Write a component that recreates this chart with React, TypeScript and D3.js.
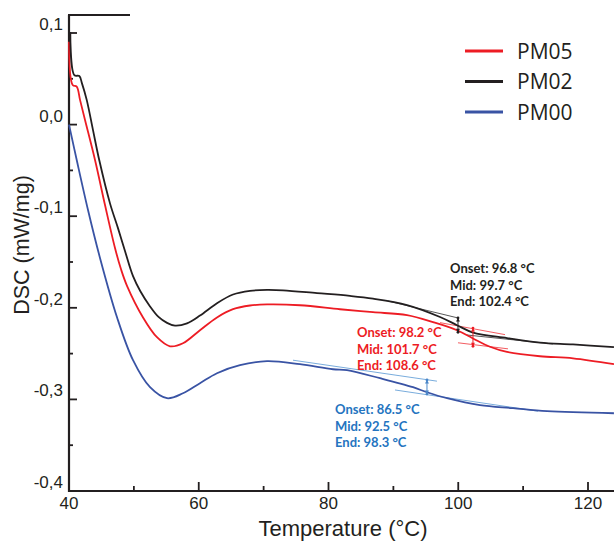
import React from 'react';
import * as d3 from 'd3';

// ---------- data ----------
const T_PM02 = [40.2, 40.82, 41.59, 42.0, 42.73, 43.7, 44.67, 46.32, 47.55, 48.63, 49.87, 51.0, 52.49, 53.8, 55.11, 56.34, 58.19, 60.19, 62.81, 65.28, 67.9, 70.52, 72.99, 78.23, 83.31, 86.86, 92.1, 97.19, 99.81, 102.27, 107.51, 112.6, 117.69, 124.0];
const V_PM02 = [0.101, 0.054, 0.053, 0.045, 0.027, -0.006, -0.039, -0.086, -0.113, -0.138, -0.1655, -0.182, -0.1985, -0.21, -0.2165, -0.2195, -0.217, -0.2085, -0.195, -0.1855, -0.1815, -0.1805, -0.181, -0.184, -0.187, -0.19, -0.197, -0.21, -0.219, -0.227, -0.233, -0.238, -0.24, -0.243];

const T_PM05 = [40.0, 40.57, 41.19, 41.7, 42.47, 44.01, 45.55, 47.09, 48.02, 48.94, 51.41, 53.56, 55.57, 57.57, 60.19, 62.81, 65.28, 67.9, 70.52, 75.61, 81.77, 86.86, 92.1, 96.11, 99.81, 102.27, 104.89, 107.51, 112.6, 117.69, 124.0];
const V_PM05 = [0.0905, 0.0432, 0.0414, 0.027, 0.005, -0.0386, -0.0878, -0.1347, -0.158, -0.176, -0.2105, -0.2321, -0.242, -0.2387, -0.2245, -0.2105, -0.2015, -0.1975, -0.1963, -0.1972, -0.2016, -0.2048, -0.2081, -0.2157, -0.2245, -0.2335, -0.2425, -0.2482, -0.2529, -0.2551, -0.2616];

const T_PM00 = [40.0, 41.19, 42.93, 44.78, 47.4, 49.87, 52.49, 55.11, 57.57, 60.19, 62.81, 66.36, 70.52, 75.61, 80.69, 82.85, 87.94, 93.03, 95.18, 98.27, 103.35, 108.44, 113.68, 124.0];
const V_PM00 = [0.0, -0.0386, -0.0932, -0.1456, -0.2103, -0.2572, -0.2867, -0.2987, -0.2933, -0.2823, -0.2714, -0.2627, -0.2583, -0.2616, -0.2671, -0.2681, -0.2769, -0.2867, -0.2922, -0.2987, -0.3063, -0.3096, -0.3129, -0.3151];

const SERIES = ['PM05', 'PM02', 'PM00'];

const X_MAJOR = [40, 60, 80, 100, 120];
const X_MINOR = [50, 70, 90, 110];
const Y_MAJOR = [0.1, 0, -0.1, -0.2, -0.3, -0.4];
const Y_MAJOR_LABELS = ['0,1', '0,0', '-0,1', '-0,2', '-0,3', '-0,4'];
const Y_MINOR = [0.05, -0.05, -0.15, -0.25, -0.35];

// glass transition annotations: tangents [T1, v1, T2, v2], step marker [T, vTop, vBottom]
const TG_PM02_TANGENTS = [[89.17, -0.1926, 99.96, -0.2111], [101.35, -0.2297, 114.6, -0.2395]];
const TG_PM02_STEP = [99.96, -0.2111, -0.2267];
const TG_PM02_TEXT = ['Onset: 96.8 °C', 'Mid: 99.7 °C', 'End: 102.4 °C'];

const TG_PM05_TANGENTS = [[97.19, -0.2162, 107.21, -0.2293], [99.96, -0.2382, 107.67, -0.2448]];
const TG_PM05_STEP = [102.27, -0.2221, -0.242];
const TG_PM05_TEXT = ['Onset: 98.2 °C', 'Mid: 101.7 °C', 'End: 108.6 °C'];

const TG_PM00_TANGENTS = [[74.53, -0.2572, 96.72, -0.2801], [90.25, -0.2897, 112.29, -0.3129]];
const TG_PM00_STEP = [95.18, -0.2788, -0.2941];
const TG_PM00_TEXT = ['Onset: 86.5 °C', 'Mid: 92.5 °C', 'End: 98.3 °C'];

// ---------- styles ----------
const W = 614;
const H = 542;
const INK = '#231f20';
const RED = '#ed1c24';
const BLUE = '#3953a4';
const TXT_BLUE = '#2474c0';
const TAN_BLUE = '#6aa3d8';
const AXIS_FONT = 'Arial, "Liberation Sans", sans-serif';
const ANN_FONT = 'Lato, "Open Sans", sans-serif';

export default function App() {
  const x = d3.scaleLinear().domain([40, 120]).range([69, 588]);
  const y = d3.scaleLinear().domain([-0.4, 0.1]).range([491, 33]);

  const line = d3
    .line<[number, number]>()
    .x((d) => x(d[0]))
    .y((d) => y(d[1]))
    .curve(d3.curveCatmullRom.alpha(0.5));

  const zip = (a: number[], b: number[]) => a.map((t, i) => [t, b[i]] as [number, number]);

  const curves = [
    { name: 'PM05', color: RED, pts: zip(T_PM05, V_PM05) },
    { name: 'PM02', color: INK, pts: zip(T_PM02, V_PM02) },
    { name: 'PM00', color: BLUE, pts: zip(T_PM00, V_PM00) },
  ];

  const xLeft = x(40);
  const yBottom = y(-0.4);
  const yTop = 15;
  const xRight = 614;

  const annotations = [
    { tangents: TG_PM02_TANGENTS, step: TG_PM02_STEP, text: TG_PM02_TEXT, tanColor: '#444', stepColor: INK, txtColor: INK, tx: 450, ty: 273 },
    { tangents: TG_PM05_TANGENTS, step: TG_PM05_STEP, text: TG_PM05_TEXT, tanColor: '#f04a4f', stepColor: RED, txtColor: RED, tx: 357, ty: 337 },
    { tangents: TG_PM00_TANGENTS, step: TG_PM00_STEP, text: TG_PM00_TEXT, tanColor: TAN_BLUE, stepColor: '#4a86c8', txtColor: TXT_BLUE, tx: 335, ty: 414 },
  ];

  const arrowHead = (cx: number, cy: number, dir: number, color: string, key: string) => (
    <path key={key} d={`M${cx - 2},${cy + dir * 3.5} L${cx},${cy} L${cx + 2},${cy + dir * 3.5} Z`} fill={color} />
  );

  return (
    <svg width={W} height={H} style={{ position: 'absolute', left: 0, top: 0, background: '#fff' }}>
      {/* axes */}
      <g stroke={INK} strokeWidth={2.2} fill="none">
        <line x1={xLeft} y1={yTop} x2={xLeft} y2={yBottom + 1} />
        <line x1={xLeft - 1} y1={yBottom} x2={xRight} y2={yBottom} />
        <line x1={xLeft - 1} y1={yTop} x2={130} y2={yTop} />
      </g>
      <g stroke={INK} strokeWidth={1.8}>
        {X_MAJOR.map((t) => (
          <line key={'xM' + t} x1={x(t)} x2={x(t)} y1={yBottom} y2={yBottom - 9} />
        ))}
        {X_MINOR.map((t) => (
          <line key={'xm' + t} x1={x(t)} x2={x(t)} y1={yBottom} y2={yBottom - 5} />
        ))}
        {Y_MAJOR.map((v) => (
          <line key={'yM' + v} x1={xLeft} x2={xLeft + 8} y1={y(v)} y2={y(v)} />
        ))}
        {Y_MINOR.map((v) => (
          <line key={'ym' + v} x1={xLeft} x2={xLeft + 4} y1={y(v)} y2={y(v)} />
        ))}
      </g>
      <g fontFamily={AXIS_FONT} fontSize={17} fill={INK}>
        {X_MAJOR.map((t) => (
          <text key={'xl' + t} x={x(t)} y={509} textAnchor="middle">
            {t}
          </text>
        ))}
        {Y_MAJOR.map((v, i) => (
          <text key={'yl' + v} x={63} y={y(v) - 3} textAnchor="end">
            {Y_MAJOR_LABELS[i]}
          </text>
        ))}
      </g>
      <text x={343} y={536} textAnchor="middle" fontFamily={AXIS_FONT} fontSize={22} fill={INK}>
        Temperature (°C)
      </text>
      <text
        transform={`translate(29,245) rotate(-90)`}
        textAnchor="middle"
        fontFamily={AXIS_FONT}
        fontSize={21.5}
        fill={INK}
      >
        DSC (mW/mg)
      </text>

      {/* annotations: tangents */}
      {annotations.map((a, ai) => (
        <g key={'ann' + ai}>
          {a.tangents.map((tg, ti) => (
            <line
              key={'tg' + ti}
              x1={x(tg[0])}
              y1={y(tg[1])}
              x2={x(tg[2])}
              y2={y(tg[3])}
              stroke={a.tanColor}
              strokeWidth={0.9}
            />
          ))}
        </g>
      ))}

      {/* curves */}
      {curves.map((c) => (
        <path key={c.name} d={line(c.pts) || ''} fill="none" stroke={c.color} strokeWidth={1.8} />
      ))}

      {/* step markers and texts */}
      {annotations.map((a, ai) => {
        const sx = x(a.step[0]);
        const sy1 = y(a.step[1]);
        const sy2 = y(a.step[2]);
        return (
          <g key={'st' + ai}>
            <line x1={sx} x2={sx} y1={sy1} y2={sy2} stroke={a.stepColor} strokeWidth={1} />
            {arrowHead(sx, sy1, 1, a.stepColor, 'h1')}
            {arrowHead(sx, sy2, -1, a.stepColor, 'h2')}
            <circle cx={sx} cy={sy1} r={1.4} fill={a.stepColor} />
            <circle cx={sx} cy={sy2} r={1.4} fill={a.stepColor} />
            <g fontFamily={ANN_FONT} fontWeight={700} fontSize={13} fill={a.txtColor}>
              {a.text.map((s, i) => (
                <text key={i} x={a.tx} y={a.ty + i * 16.5}>
                  {s}
                </text>
              ))}
            </g>
          </g>
        );
      })}

      {/* legend */}
      <g>
        {SERIES.map((s, i) => (
          <g key={'lg' + s}>
            <line x1={465} x2={503} y1={51 + i * 30.5} y2={51 + i * 30.5} stroke={curves[i].color} strokeWidth={2.8} />
            <text x={517} y={51 + i * 30.5 + 7.5} fontFamily='"Open Sans", sans-serif' fontSize={21} fill={INK}>
              {s}
            </text>
          </g>
        ))}
      </g>
    </svg>
  );
}
